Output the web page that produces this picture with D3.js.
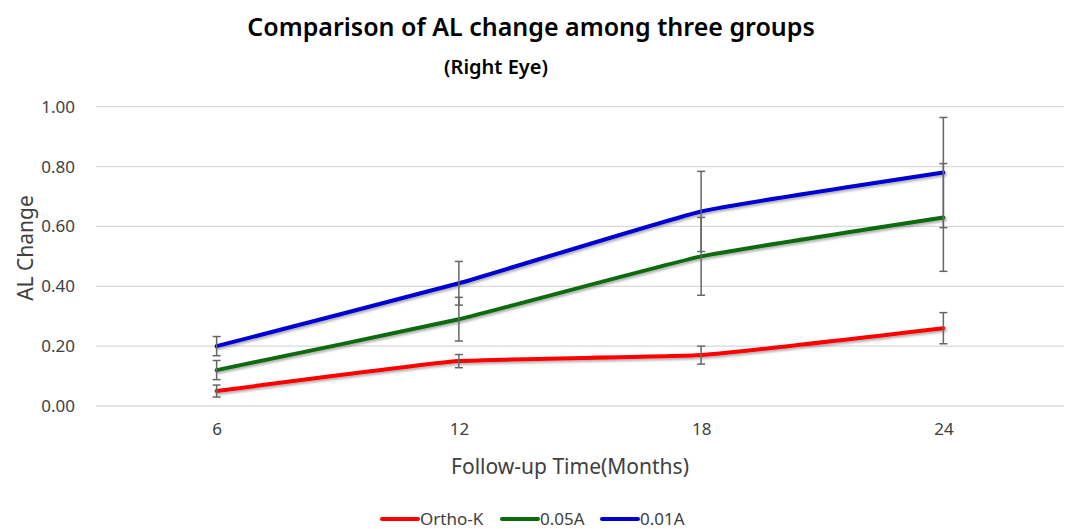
<!DOCTYPE html>
<html><head><meta charset="utf-8">
<script src="https://cdn.jsdelivr.net/npm/d3@7"></script>
<style>body{margin:0;background:#fff;}svg{display:block;font-family:"Noto Sans",sans-serif;}</style>
</head><body>
<svg id="c" width="1068" height="529"></svg>
<script>
const categories = ["6","12","18","24"];
const seriesNames = ["Ortho-K","0.05A","0.01A"];
const seriesColors = ["#ff0000","#0b6b0b","#0000d0"];
const orthoK = [0.05,0.15,0.17,0.26];
const a005 = [0.12,0.29,0.50,0.63];
const a001 = [0.20,0.41,0.65,0.78];
const orthoKErr = [0.02,0.022,0.03,0.052];
const a005Err = [0.032,0.073,0.13,0.18];
const a001Err = [0.032,0.073,0.134,0.184];
const yTicks = [0,0.2,0.4,0.6,0.8,1.0];

const series = [
  {name:seriesNames[0], color:seriesColors[0], values:orthoK, err:orthoKErr},
  {name:seriesNames[1], color:seriesColors[1], values:a005, err:a005Err},
  {name:seriesNames[2], color:seriesColors[2], values:a001, err:a001Err}
];

const svg = d3.select("#c");
const x = d3.scalePoint().domain(categories).range([95.5,1064.5]).padding(0.5);
const y = d3.scaleLinear().domain([0,1]).range([406,106.7]);

const defs = svg.append("defs");
const f = defs.append("filter").attr("id","sh").attr("x","-5%").attr("y","-20%").attr("width","110%").attr("height","140%");
f.append("feDropShadow").attr("dx",1.5).attr("dy",2).attr("stdDeviation",1.2).attr("flood-color","#000").attr("flood-opacity",0.3);

// title
svg.append("text").attr("x",531).attr("y",36).attr("text-anchor","middle")
  .attr("font-size",25).attr("font-weight",600).attr("fill","#000")
  .text("Comparison of AL change among three groups");
svg.append("text").attr("x",496).attr("y",74).attr("text-anchor","middle")
  .attr("font-size",20).attr("font-weight",600).attr("fill","#000")
  .text("(Right Eye)");

// gridlines
svg.append("g").selectAll("line").data(yTicks).join("line")
  .attr("x1",96).attr("x2",1064).attr("y1",d=>y(d)).attr("y2",d=>y(d))
  .attr("stroke","#d9d9d9").attr("stroke-width",1.3);

// y axis
const yAxis = svg.append("g").attr("transform","translate(96,0)")
  .call(d3.axisLeft(y).tickValues(yTicks).tickFormat(d3.format(".2f")).tickSize(0).tickPadding(21));
yAxis.select(".domain").remove();
yAxis.selectAll("text").attr("font-size",17).attr("fill","#404040").attr("font-family","Noto Sans, sans-serif");

// x axis
const xAxis = svg.append("g").attr("transform","translate(0,406)")
  .call(d3.axisBottom(x).tickSize(0).tickPadding(17));
xAxis.select(".domain").remove();
xAxis.selectAll("text").attr("font-size",17).attr("fill","#404040").attr("font-family","Noto Sans, sans-serif");

// axis titles
svg.append("text").attr("x",570).attr("y",474).attr("text-anchor","middle")
  .attr("font-size",21).attr("fill","#404040").text("Follow-up Time(Months)");
svg.append("text").attr("transform","translate(33,248) rotate(-90)").attr("text-anchor","middle")
  .attr("font-size",21).attr("fill","#404040").text("AL Change");

// lines
const line = d3.line().x((d,i)=>x(categories[i])).y(d=>y(d)).curve(d3.curveCardinal.tension(0.65));
svg.append("g").selectAll("path").data(series).join("path")
  .attr("d",s=>line(s.values)).attr("fill","none").attr("stroke",s=>s.color)
  .attr("stroke-width",4).attr("stroke-linecap","round").attr("filter","url(#sh)");

// error bars
const eg = svg.append("g").attr("stroke","#666").attr("stroke-width",1.5);
series.forEach(s=>{
  s.values.forEach((v,i)=>{
    const cx = x(categories[i]);
    const y1 = y(v+s.err[i]), y2 = y(v-s.err[i]);
    eg.append("line").attr("x1",cx).attr("x2",cx).attr("y1",y1).attr("y2",y2);
    eg.append("line").attr("x1",cx-4).attr("x2",cx+4).attr("y1",y1).attr("y2",y1);
    eg.append("line").attr("x1",cx-4).attr("x2",cx+4).attr("y1",y2).attr("y2",y2);
  });
});

// legend
const legX = [382,502,602];
const lg = svg.append("g");
series.forEach((s,i)=>{
  lg.append("line").attr("x1",legX[i]).attr("x2",legX[i]+36).attr("y1",519).attr("y2",519)
    .attr("stroke",s.color).attr("stroke-width",4).attr("stroke-linecap","round");
  lg.append("text").attr("x",legX[i]+38).attr("y",525).attr("font-size",17).attr("fill","#404040").text(s.name);
});
</script>
</body></html>
